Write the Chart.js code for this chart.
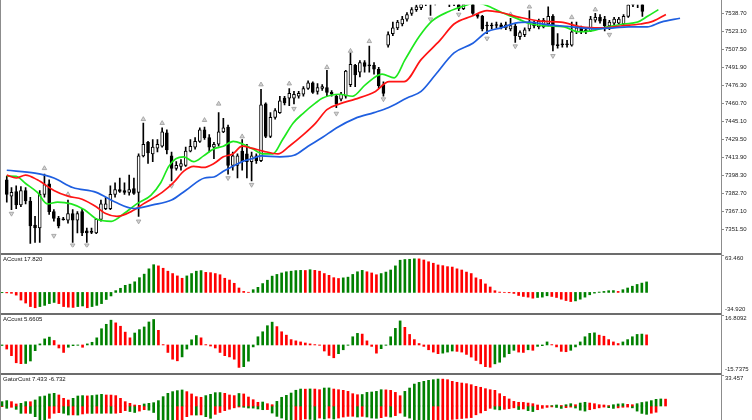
<!DOCTYPE html>
<html>
<head>
<meta charset="utf-8">
<script src="https://cdn.jsdelivr.net/npm/chart.js@4.4.1/dist/chart.umd.min.js"></script>
<style>
    html, body { margin: 0; padding: 0; background: #fff; }
    #wrap { position: relative; width: 752px; height: 420px; overflow: hidden; background: #fff; font-family: 'Liberation Sans', Arial, sans-serif; }
    canvas { position: absolute; left: 0; }
    .sep { position: absolute; left: 0; width: 721px; height: 2px; background: #6c6c6c; }
    .vline { position: absolute; top: 0; width: 1px; height: 420px; background: #8c8c8c; }
    .lbl { position: absolute; left: 3px; font-size: 6px; line-height: 1; color: #111; white-space: nowrap; }
</style>
</head>
<body>
<div id="wrap">
    <canvas id="price" width="752" height="252" style="top:0"></canvas>
    <canvas id="ac1" width="752" height="58" style="top:255px"></canvas>
    <canvas id="ac2" width="752" height="58" style="top:315px"></canvas>
    <canvas id="gator" width="752" height="45" style="top:375px"></canvas>
    <div class="sep" style="top:253px"></div>
    <div class="sep" style="top:313px"></div>
    <div class="sep" style="top:373px"></div>
    <div class="vline" style="left:0"></div>
    <div class="vline" style="left:721px"></div>
    <div class="lbl" style="top:256px">ACcust 17.820</div>
    <div class="lbl" style="top:316px">ACcust 5.6605</div>
    <div class="lbl" style="top:376px">GatorCust 7.433 -6.732</div>
</div>
<script>
// price bars (bar index = position in array)
const candleOpen = [
    7394.2, 7380.0, 7384.1, 7372.4, 7384.9, 7375.8, 7354.9, 7352.4, 7381.6, 7390.8,
    7366.6, 7360.7, 7359.9, 7359.1, 7364.9, 7359.1, 7366.6, 7349.9, 7349.0, 7348.2,
    7359.9, 7369.1, 7369.1, 7381.6, 7385.8, 7384.9, 7383.3, 7386.6, 7383.3, 7415.0,
    7426.7, 7416.7, 7421.7, 7423.4, 7435.1, 7415.0, 7404.2, 7405.9, 7406.7, 7419.2,
    7422.6, 7427.6, 7437.6, 7430.9, 7422.6, 7425.1, 7435.9, 7440.1, 7406.7, 7406.7,
    7419.2, 7416.7, 7410.0, 7415.0, 7410.9, 7460.2, 7431.8, 7448.5, 7452.6, 7465.2,
    7465.2, 7465.2, 7466.8, 7468.5, 7473.5, 7478.5, 7471.0, 7473.5, 7474.4, 7470.2,
    7466.8, 7464.3, 7466.8, 7476.9, 7493.6, 7487.7, 7496.1, 7493.6, 7493.6, 7490.2,
    7476.9, 7511.1, 7521.1, 7526.2, 7529.5, 7533.7, 7538.7, 7542.0, 7543.7, 7547.9,
    7552.9, 7548.7, 7554.6, 7558.7, 7552.9, 7547.0, 7551.2, 7542.9, 7549.5, 7552.9,
    7537.8, 7536.2, 7528.2, 7528.2, 7528.7, 7528.9, 7526.2, 7525.3, 7527.8, 7518.6,
    7520.3, 7525.3, 7530.3, 7527.0, 7527.0, 7529.5, 7536.2, 7511.1, 7511.9, 7511.9,
    7511.1, 7522.8, 7526.2, 7524.5, 7523.6, 7532.8, 7535.3, 7533.7, 7527.8, 7530.3,
    7530.3, 7529.5, 7536.2, 7546.2, 7552.9, 7547.9, 7550.4
];
const candleHigh = [
    7397.5, 7387.5, 7389.1, 7388.3, 7387.5, 7379.1, 7362.4, 7384.9, 7399.2, 7394.2,
    7368.3, 7362.4, 7361.6, 7376.6, 7368.3, 7366.6, 7369.1, 7352.4, 7352.4, 7360.7,
    7376.6, 7379.1, 7389.1, 7391.7, 7395.8, 7391.7, 7398.3, 7395.8, 7416.7, 7443.4,
    7427.6, 7429.2, 7429.2, 7439.3, 7437.6, 7418.4, 7410.0, 7411.7, 7422.6, 7429.2,
    7430.9, 7439.3, 7440.1, 7433.4, 7426.7, 7452.6, 7447.6, 7441.8, 7418.4, 7416.7,
    7429.2, 7425.1, 7418.4, 7416.7, 7472.7, 7461.0, 7452.6, 7456.0, 7466.8, 7466.8,
    7473.5, 7471.0, 7471.0, 7475.2, 7480.2, 7479.4, 7477.7, 7476.9, 7489.4, 7471.8,
    7468.5, 7470.2, 7489.4, 7504.4, 7494.4, 7497.7, 7497.7, 7510.3, 7496.1, 7491.9,
    7479.4, 7522.8, 7531.2, 7532.8, 7536.2, 7539.5, 7543.7, 7546.2, 7550.4, 7556.2,
    7557.9, 7558.7, 7562.9, 7562.9, 7556.2, 7554.6, 7552.9, 7552.9, 7556.2, 7554.6,
    7538.7, 7537.0, 7531.2, 7530.3, 7531.2, 7530.3, 7531.2, 7534.5, 7529.5, 7523.6,
    7526.2, 7541.2, 7532.0, 7533.7, 7534.5, 7544.5, 7537.8, 7521.1, 7516.1, 7515.3,
    7531.2, 7531.2, 7527.8, 7526.2, 7536.2, 7538.7, 7537.8, 7536.2, 7532.8, 7535.3,
    7535.3, 7537.8, 7548.7, 7556.2, 7556.2, 7549.5, 7558.7
];
const candleLow = [
    7374.9, 7368.3, 7369.1, 7370.8, 7373.3, 7339.0, 7339.9, 7339.9, 7379.1, 7364.1,
    7358.2, 7352.4, 7359.1, 7356.6, 7339.9, 7348.2, 7345.7, 7339.9, 7347.4, 7347.4,
    7358.2, 7368.3, 7368.3, 7379.1, 7383.3, 7381.6, 7380.8, 7381.6, 7362.4, 7414.2,
    7408.4, 7410.0, 7418.4, 7422.6, 7416.7, 7393.3, 7402.5, 7402.5, 7405.9, 7418.4,
    7420.9, 7426.7, 7429.2, 7418.4, 7412.5, 7423.4, 7435.1, 7399.2, 7402.5, 7395.8,
    7402.5, 7395.8, 7393.3, 7408.4, 7410.0, 7430.9, 7430.9, 7446.8, 7451.8, 7459.3,
    7458.5, 7460.2, 7465.2, 7466.8, 7472.7, 7469.3, 7468.5, 7471.8, 7466.8, 7466.8,
    7456.8, 7462.7, 7465.2, 7475.2, 7475.2, 7483.5, 7487.7, 7487.7, 7486.0, 7473.5,
    7466.8, 7509.4, 7519.5, 7524.5, 7527.8, 7532.0, 7537.0, 7540.4, 7542.0, 7545.4,
    7537.0, 7546.2, 7551.2, 7549.5, 7544.5, 7545.4, 7541.2, 7542.0, 7547.9, 7537.8,
    7534.5, 7523.6, 7521.1, 7525.3, 7526.2, 7525.3, 7524.5, 7523.6, 7513.6, 7516.1,
    7518.6, 7523.6, 7526.2, 7525.3, 7526.2, 7527.8, 7506.1, 7508.6, 7509.4, 7509.4,
    7510.3, 7521.1, 7521.1, 7521.1, 7522.8, 7531.2, 7530.3, 7523.6, 7524.5, 7528.7,
    7529.5, 7527.8, 7535.3, 7544.5, 7543.7, 7536.2, 7548.7
];
const candleClose = [
    7381.6, 7383.3, 7372.4, 7384.9, 7375.8, 7354.1, 7352.4, 7381.6, 7390.0, 7366.6,
    7360.7, 7354.1, 7359.5, 7364.9, 7359.1, 7364.9, 7348.2, 7348.2, 7348.6, 7359.9,
    7373.3, 7373.3, 7381.6, 7385.8, 7384.1, 7383.3, 7385.8, 7382.5, 7415.0, 7425.1,
    7417.6, 7422.6, 7425.1, 7435.9, 7420.1, 7404.2, 7406.7, 7408.4, 7419.2, 7423.4,
    7427.6, 7437.6, 7430.9, 7422.6, 7425.1, 7435.9, 7439.3, 7406.7, 7415.0, 7415.0,
    7410.0, 7410.0, 7415.0, 7410.9, 7459.3, 7431.8, 7448.5, 7454.3, 7462.7, 7461.0,
    7469.3, 7468.5, 7469.3, 7473.5, 7478.5, 7470.2, 7474.4, 7475.2, 7470.2, 7468.5,
    7460.2, 7468.5, 7488.6, 7494.4, 7485.2, 7496.1, 7492.7, 7493.2, 7490.2, 7476.0,
    7469.3, 7520.3, 7526.2, 7531.2, 7533.7, 7537.8, 7542.0, 7544.5, 7547.9, 7552.9,
    7547.9, 7554.6, 7559.6, 7552.9, 7547.0, 7551.2, 7542.9, 7549.5, 7553.7, 7538.7,
    7536.2, 7525.3, 7527.8, 7527.8, 7528.2, 7526.7, 7528.9, 7528.1, 7519.5, 7522.0,
    7524.5, 7531.2, 7527.8, 7532.0, 7532.8, 7536.2, 7511.1, 7510.7, 7511.5, 7511.5,
    7522.8, 7526.2, 7522.8, 7522.8, 7533.7, 7535.3, 7532.0, 7527.8, 7531.2, 7533.7,
    7533.7, 7536.2, 7546.2, 7552.9, 7547.9, 7540.4, 7556.2
];

// fractal arrows: bar index and price where the arrow sits
const fractalUpBar = [8, 13, 29, 33, 42, 45, 50, 54, 60, 68, 73, 77, 107, 111, 120, 125];
const fractalUpPrice = [7404.2, 7381.6, 7446.8, 7443.4, 7446.0, 7460.2, 7431.8, 7476.9, 7477.7, 7491.9, 7506.1, 7514.5, 7537.8, 7544.5, 7535.3, 7542.0];
const fractalDownBar = [1, 10, 14, 17, 28, 35, 47, 52, 61, 70, 80, 90, 96, 102, 108, 116, 128];
const fractalDownPrice = [7364.9, 7345.7, 7337.4, 7337.4, 7358.2, 7389.1, 7395.8, 7390.0, 7456.0, 7451.8, 7464.3, 7533.7, 7537.8, 7517.0, 7510.3, 7501.9, 7520.3];

// alligator lines as [bar, price]
const jawLine = [
    [0, 7402.5], [6, 7400.0], [10, 7395.8], [14, 7387.5], [19, 7383.3], [23, 7374.9], [27, 7369.3],
    [31, 7372.4], [35, 7376.6], [38, 7385.0], [42, 7395.8], [44, 7396.7], [46, 7401.7], [48, 7405.9],
    [50, 7410.0], [52, 7412.5], [54, 7415.0], [58, 7414.2], [61, 7415.5], [64, 7423.4], [67, 7430.9],
    [70, 7439.3], [74, 7447.6], [78, 7452.6], [81, 7456.8], [85, 7465.2], [88, 7471.0], [91, 7485.2],
    [95, 7504.4], [99, 7512.8], [102, 7522.8], [105, 7526.2], [108, 7530.3], [111, 7531.2], [115, 7528.7],
    [118, 7527.8], [122, 7526.2], [125, 7525.3], [129, 7526.2], [132, 7527.0], [136, 7527.0], [139, 7531.2],
    [143, 7534.5]
];
const teethLine = [
    [0, 7398.3], [2, 7395.8], [4, 7398.3], [6.5, 7394.2], [10, 7385.0], [13, 7380.0], [16, 7377.4],
    [19, 7370.8], [21, 7364.9], [23.4, 7362.4], [26.4, 7366.6], [29, 7373.3], [33, 7383.3], [35.4, 7391.7],
    [37.6, 7401.7], [39.7, 7405.9], [41.8, 7405.0], [44, 7408.4], [46, 7414.2], [48, 7416.7], [50, 7423.4],
    [52, 7421.7], [54.4, 7419.2], [57.6, 7416.7], [60, 7423.4], [63, 7433.4], [65.6, 7443.4], [68, 7455.1],
    [70.7, 7460.2], [74, 7464.3], [78.3, 7471.0], [81.2, 7479.4], [84.4, 7479.4], [88, 7498.6], [92, 7515.3],
    [95, 7529.5], [98.7, 7536.2], [102, 7541.2], [105, 7539.5], [109, 7535.3], [113.5, 7532.0], [117.7, 7531.2],
    [122, 7527.0], [126, 7526.1], [130.4, 7527.8], [134.6, 7529.5], [137.3, 7532.0], [140, 7537.8]
];
const lipsLine = [
    [0, 7397.5], [2, 7397.2], [4, 7391.0], [6.5, 7383.3], [8.6, 7373.3], [10.8, 7374.9], [13.7, 7373.3],
    [16.5, 7368.3], [19.2, 7359.9], [22.2, 7358.2], [24.9, 7364.9], [27.6, 7373.3], [30.6, 7380.8],
    [32.7, 7391.7], [34.4, 7405.9], [35.9, 7412.5], [37.6, 7414.2], [39.7, 7410.0], [41.8, 7415.0],
    [43.9, 7420.9], [46, 7423.4], [48.1, 7427.6], [50.2, 7425.1], [52.3, 7420.9], [54.4, 7416.7],
    [56.5, 7416.7], [58.6, 7429.2], [60.8, 7443.4], [62.9, 7451.8], [65.6, 7461.0], [67.1, 7465.2],
    [70.7, 7468.5], [73.4, 7466.8], [76.2, 7476.9], [79.7, 7486.0], [82.3, 7482.7], [84.6, 7498.6],
    [87.6, 7518.6], [90.3, 7532.0], [93.9, 7540.4], [96.6, 7544.5], [99.8, 7547.9], [103, 7543.7],
    [105.1, 7539.5], [107.8, 7535.3], [111.4, 7529.5], [115, 7527.8], [118.4, 7527.0], [121.3, 7522.8],
    [124.1, 7523.6], [127.6, 7527.0], [131, 7529.5], [134, 7531.2], [136.1, 7536.2], [138.4, 7542.0]
];

// oscillators
const ac1Values = [
    -0.5, -0.8, -1.5, -4.6, -13, -18, -24, -26, -24, -22,
    -19, -17, -19, -24, -25, -25.5, -24, -23, -26, -24,
    -22, -19, -12, -6, 3, 7, 12, 14, 18, 25,
    31, 40, 47, 45, 41, 36, 32, 28, 24, 28,
    32, 36, 37, 34, 33.5, 32, 30, 24, 21, 15.5,
    7.5, 1.7, 0.3, 4.6, 8.6, 15, 20.7, 27.6, 30.5, 33,
    35, 36, 37, 37.4, 37.2, 38.5, 37.4, 36, 32, 29,
    25, 23.6, 24.7, 25.9, 30.5, 35, 37.4, 35, 33, 30,
    32, 34.5, 38, 45, 54.6, 55.8, 56.2, 57, 56.9, 55,
    52, 49.5, 46.6, 45.4, 43.7, 43, 40, 38, 34.5, 32,
    24.7, 21.9, 14.4, 9.2, 2.9, 0.6, 0.2, -0.6, -1.7, -5.2,
    -6.9, -8, -9.8, -8.6, -8, -5.7, -6.9, -8.6, -11.5, -13.8,
    -15.5, -14.4, -11.5, -8, -4, -1.2, 0.6, 1.7, 2.9, 3.1,
    1.7, 4.6, 7.5, 10.5, 13.5, 15.8, 17.82
];
const ac2Values = [
    -0.3, -2.3, -6, -10, -10.5, -10.4, -9, -3.2, 0.6, 3.4,
    4.4, 2.5, -1.7, -4.2, -1.3, -0.4, -0.2, -1.3, 0.6, 1.5,
    4, 9.1, 11.6, 13.9, 12.4, 10.5, 7.2, 4, 6.7, 8.6,
    10.1, 12.9, 14.3, 8.2, 0.2, -4.2, -8, -8.9, -6.7, -2.3,
    2.9, 5.3, 4, 0.2, -0.6, -1.7, -4.2, -6, -6.7, -8,
    -12.6, -12.2, -9.1, -1.1, 4.6, 7.4, 10.8, 12.8, 10.3, 7.4,
    5.5, 3, 2.3, 1.7, 1.1, 0.6, 0.2, -0.2, -3.4, -5.9,
    -7.2, -4.9, -2.7, -0.2, 4.6, 6.5, 6.1, 2.3, -0.8, -4.6,
    -2.1, -0.2, 4.6, 9.3, 13.5, 9.9, 5.9, 3, 0.8, -0.8,
    -2.7, -4, -4.9, -4.6, -4.0, -3.4, -3.6, -4.0, -5.3, -6.8,
    -8.7, -10.6, -12.2, -12.5, -10.6, -9.7, -6.8, -4.9, -3.0, -4.0,
    -4.2, -2.7, -3.0, -0.8, -0.4, 1.7, 0.2, -1.1, -3.6, -3.8,
    -3.0, -1.1, 1.7, 4.6, 6.5, 6.8, 5.5, 4.9, 3.0, 1.7,
    0.8, 1.7, 3.0, 4.6, 5.9, 6.1, 5.6605
];
const gatorUpper = [
    4.7, 5.8, 4.7, 2.2, 2.9, 4.7, 4.6, 6.5, 10.1, 10.8,
    13, 13.7, 11.9, 8.3, 6.5, 8.3, 10.8, 11.2, 10.9, 11.3,
    11.9, 12.6, 11.9, 11.8, 11.2, 8.3, 4.7, 2.9, 1.1, 0.7,
    2.2, 2.9, 3.6, 5.8, 10.1, 13.7, 15.5, 16.6, 17.3, 15.5,
    13, 10.1, 9.4, 11.2, 12.6, 14.4, 14.5, 13.7, 11.9, 11.2,
    13.5, 13, 9.7, 6.8, 4, 4.3, 2.5, 1.4, 5, 9.4,
    11.5, 14, 17, 18.3, 18.2, 18.4, 18.3, 17.6, 19.4, 19.5,
    18.3, 17.6, 16.9, 15.8, 13.3, 12.2, 12.4, 14.7, 15.1, 15.8,
    17.6, 17.4, 16.9, 14.7, 11.1, 15.8, 19.4, 23.7, 25.5, 26.6,
    27.7, 28.4, 29.1, 29.0, 28.4, 26.6, 25.6, 24.8, 24.1, 23,
    21.2, 20.2, 18.7, 17.6, 16.9, 13.3, 10.4, 7.6, 5, 4,
    3.9, 3.2, 2.5, 1.1, 0.4, 0.3, 0.4, 1.1, 0.5, 1.4,
    2.5, 1.4, 3.2, 4, 3.2, 2.5, 1.4, 1.1, 0.4, 1.4,
    2.2, 2.5, 1.8, 1.4, 2.5, 3.8, 4.5, 5.8, 7.2, 7.6,
    7.433
];
const gatorLower = [
    -0.7, -2.5, -1.4, -3.6, -7.9, -7.8, -8, -11.5, -15.8, -17,
    -13.3, -7.9, -7.2, -7.9, -9.7, -9.6, -9.8, -8.6, -7.9, -8,
    -7.8, -7.9, -7.7, -7.9, -7.8, -7.2, -5, -6, -7, -5.5,
    -4, -4.5, -7, -15.8, -17, -18, -18.5, -18, -16, -11.5,
    -9.7, -9.8, -9.6, -11.5, -13.3, -9, -7, -5, -3.5, -2,
    -1.1, -1.4, -2.2, -2.3, -3.2, -4, -3.9, -7.6, -11.2, -13,
    -14.8, -15.5, -15.1, -14.8, -14, -14.4, -14.8, -13, -14, -13,
    -14, -13, -11.9, -11.2, -11.1, -11.9, -11.2, -11.9, -13, -13.3,
    -12.6, -11.2, -11.9, -10.4, -7.6, -11.2, -13, -14.8, -15.5, -16.6,
    -16.7, -16.3, -16, -15.5, -15.1, -14.5, -14, -13.5, -13, -12.5,
    -9.5, -7.5, -5, -2.5, -3.5, -4.2, -3.5, -2.8, -2, -3.8,
    -3.2, -5.0, -6.0, -4.0, -2.5, -1.5, -1.0, -1.6, -2.6, -1.8,
    -1.2, -2.2, -4.5, -5.5, -4, -3.0, -2.0, -1.2, -1.8, -2.6,
    -2.0, -1.4, -1.2, -2.0, -5.5, -8.0, -9.0, -7.8, -6.732
];

// axis ticks
const priceTicks = [7538.70, 7523.10, 7507.50, 7491.90, 7476.30, 7460.70, 7445.10, 7429.50, 7413.90, 7398.30, 7382.70, 7367.10, 7351.50];
const ac1Range = [-34.920, 63.460];
const ac1TickText = ['63.460', '-34.920'];
const ac2Range = [-15.7375, 16.8092];
const ac2TickText = ['16.8092', '-15.7375'];
const gatorRange = [-15.11, 33.457];
const gatorTickText = ['33.457'];

const axisFont = "'Liberation Sans', Arial, sans-serif";
const green = '#008000';
const red = '#ff0000';
const axisGray = '#8c8c8c';

const xScale = { type: 'linear', display: false, min: -0.42, max: 151.7, offset: false };

function rightAxis(min, max, tickValues, labelFor) {
    return {
        position: 'right',
        min: min,
        max: max,
        afterBuildTicks: function (scale) {
            scale.ticks = tickValues.map(v => ({ value: v }));
        },
        afterFit: function (scale) {
            scale.width = 31;
            scale.paddingTop = 0;
            scale.paddingBottom = 0;
        },
        ticks: {
            autoSkip: false,
            padding: 1,
            color: '#1a1a1a',
            font: { family: axisFont, size: 6, lineHeight: 1.15 },
            callback: labelFor
        },
        grid: { drawOnChartArea: false, drawTicks: true, tickLength: 3, color: axisGray },
        border: { display: true, color: axisGray, width: 1 }
    };
}

// first label sits under the top edge, second above the bottom edge
function edgeLabels(texts) {
    return function (value, index) {
        return index === 0 ? ['', texts[0]] : [texts[index], ''];
    };
}

function baseOptions(yAxis) {
    return {
        responsive: false,
        animation: false,
        events: [],
        layout: { padding: 0 },
        plugins: { legend: { display: false }, tooltip: { enabled: false } },
        scales: { x: xScale, y: yAxis }
    };
}

function risingColors(values, useAbs) {
    return values.map((v, i) => {
        if (i === 0) return useAbs ? red : green;
        const a = useAbs ? Math.abs(v) : v;
        const b = useAbs ? Math.abs(values[i - 1]) : values[i - 1];
        return a > b ? green : red;
    });
}

function histogram(values, colors) {
    return {
        type: 'bar',
        data: values.map((v, i) => ({ x: i, y: v })),
        backgroundColor: colors,
        borderWidth: 0,
        barThickness: 2,
        grouped: false
    };
}

// price pane
const bars = candleOpen.map((_, i) => i);
const bodyFill = bars.map(i => candleClose[i] >= candleOpen[i] ? '#ffffff' : '#000000');
const lineStyle = { type: 'line', pointRadius: 0, borderWidth: 1.7, fill: false, cubicInterpolationMode: 'monotone' };

new Chart(document.getElementById('price'), {
    type: 'bar',
    data: {
        datasets: [
            {
                type: 'bar',
                data: bars.map(i => ({ x: i, y: [candleLow[i], candleHigh[i]] })),
                backgroundColor: '#000000',
                borderWidth: 0,
                barThickness: 1,
                grouped: false,
                order: 5
            },
            {
                type: 'bar',
                data: bars.map(i => ({ x: i, y: [candleOpen[i], candleClose[i]] })),
                backgroundColor: bodyFill,
                borderColor: '#000000',
                borderWidth: 1,
                borderSkipped: false,
                barThickness: 3,
                minBarLength: 1,
                grouped: false,
                order: 4
            },
            Object.assign({ data: jawLine.map(p => ({ x: p[0], y: p[1] })), borderColor: '#1f5fe0', order: 1 }, lineStyle),
            Object.assign({ data: teethLine.map(p => ({ x: p[0], y: p[1] })), borderColor: '#ff1414', order: 1 }, lineStyle),
            Object.assign({ data: lipsLine.map(p => ({ x: p[0], y: p[1] })), borderColor: '#1ee81e', order: 1 }, lineStyle),
            {
                type: 'scatter',
                data: fractalUpBar.map((b, k) => ({ x: b, y: fractalUpPrice[k] })),
                pointStyle: 'triangle',
                pointRadius: 2.6,
                backgroundColor: '#d4d4d4',
                borderColor: '#9a9a9a',
                borderWidth: 0.8,
                order: 2
            },
            {
                type: 'scatter',
                data: fractalDownBar.map((b, k) => ({ x: b, y: fractalDownPrice[k] })),
                pointStyle: 'triangle',
                rotation: 180,
                pointRadius: 2.6,
                backgroundColor: '#d4d4d4',
                borderColor: '#9a9a9a',
                borderWidth: 0.8,
                order: 2
            }
        ]
    },
    options: baseOptions(rightAxis(7335.7, 7546.2, priceTicks, v => v.toFixed(2)))
});

new Chart(document.getElementById('ac1'), {
    type: 'bar',
    data: { datasets: [histogram(ac1Values, risingColors(ac1Values, false))] },
    options: baseOptions(rightAxis(ac1Range[0], ac1Range[1], [ac1Range[1], ac1Range[0]], edgeLabels(ac1TickText)))
});

new Chart(document.getElementById('ac2'), {
    type: 'bar',
    data: { datasets: [histogram(ac2Values, risingColors(ac2Values, false))] },
    options: baseOptions(rightAxis(ac2Range[0], ac2Range[1], [ac2Range[1], ac2Range[0]], edgeLabels(ac2TickText)))
});

new Chart(document.getElementById('gator'), {
    type: 'bar',
    data: {
        datasets: [
            histogram(gatorUpper, risingColors(gatorUpper, false)),
            histogram(gatorLower, risingColors(gatorLower, true))
        ]
    },
    options: baseOptions(rightAxis(gatorRange[0], gatorRange[1], [gatorRange[1]], edgeLabels(gatorTickText)))
});
</script>
</body>
</html>
